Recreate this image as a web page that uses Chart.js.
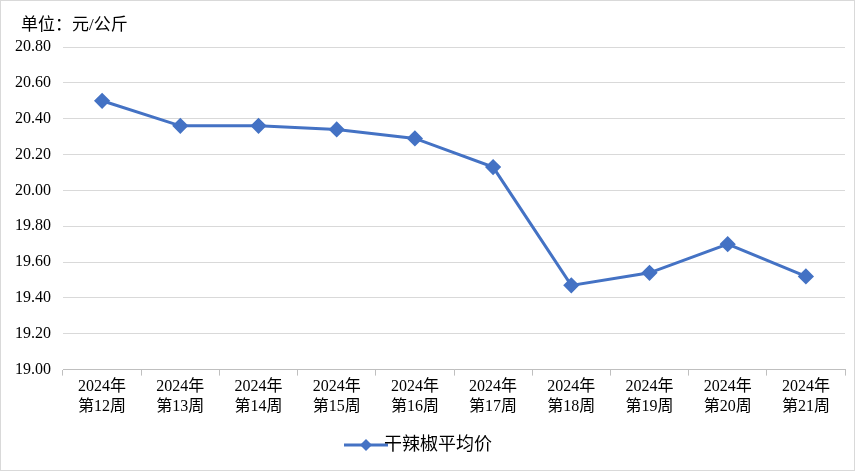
<!DOCTYPE html>
<html><head><meta charset="utf-8">
<script src="https://cdn.jsdelivr.net/npm/chart.js@4/dist/chart.umd.min.js"></script>
<style>
html,body{margin:0;padding:0;background:#fff}
#wrap{width:853px;height:469px;border:1px solid #d9d9d9;position:relative}
</style></head>
<body><div id="wrap"><canvas id="chart"></canvas></div>
<script>
const years = ['2024年','2024年','2024年','2024年','2024年','2024年','2024年','2024年','2024年','2024年'];
const weeks = ['第12周','第13周','第14周','第15周','第16周','第17周','第18周','第19周','第20周','第21周'];
const prices = [20.50, 20.36, 20.36, 20.34, 20.29, 20.13, 19.47, 19.54, 19.70, 19.52];
const seriesName = '干辣椒平均价';
const unitText = '单位：元/公斤';

const font = '"Liberation Serif", "Noto Sans CJK SC", serif';
const color = '#4472c4';

// legend marker: line with diamond
const mk = document.createElement('canvas');
mk.width = 44; mk.height = 14;
const m = mk.getContext('2d');
m.strokeStyle = color; m.lineWidth = 3;
m.beginPath(); m.moveTo(0,7); m.lineTo(44,7); m.stroke();
m.fillStyle = color;
m.beginPath(); m.moveTo(22,1); m.lineTo(28,7); m.lineTo(22,13); m.lineTo(16,7); m.closePath(); m.fill();

const unitTitle = {
  id: 'unitTitle',
  afterDraw(c){
    const g = c.ctx;
    g.save();
    g.font = '17px ' + font;
    g.fillStyle = '#000';
    g.textBaseline = 'middle';
    g.fillText(unitText, 20, 25);
    g.restore();
  }
};

new Chart(document.getElementById('chart'), {
  type: 'line',
  data: {
    labels: years.map((y,i) => [y, weeks[i]]),
    datasets: [{
      label: seriesName, data: prices,
      borderColor: color, backgroundColor: color, borderWidth: 3,
      pointStyle: 'rectRot', pointRadius: 6, pointHoverRadius: 6, tension: 0
    }]
  },
  plugins: [unitTitle],
  options: {
    responsive: true, maintainAspectRatio: false, animation: false,
    layout: { padding: { left: 2, right: 8, top: 46, bottom: 6 } },
    plugins: {
      legend: { position: 'bottom',
        labels: { usePointStyle: true, pointStyle: mk, color: '#000',
          font: { family: font, size: 18 }, padding: 18 } },
      tooltip: { enabled: false }
    },
    scales: {
      x: {
        offset: true,
        grid: { display: true, drawOnChartArea: false, offset: true, color: '#bfbfbf', tickLength: 6 },
        border: { color: '#bfbfbf' },
        ticks: { color: '#000', font: { family: font, size: 16 }, maxRotation: 0, autoSkip: false, padding: 2 }
      },
      y: {
        min: 19.00, max: 20.80,
        grid: { color: '#d9d9d9', drawTicks: false },
        border: { display: false },
        ticks: { stepSize: 0.2, color: '#000', padding: 12, font: { family: font, size: 16 },
          callback: v => v.toFixed(2) }
      }
    }
  }
});
</script></body></html>
